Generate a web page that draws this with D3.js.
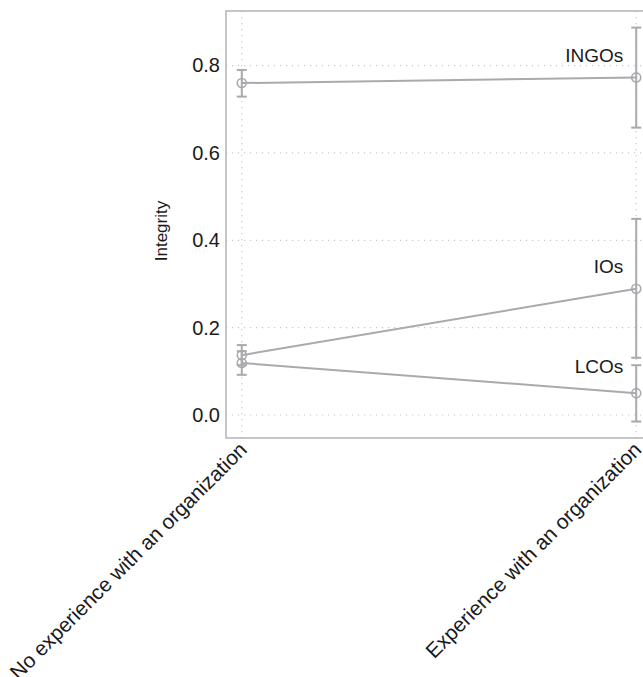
<!DOCTYPE html>
<html>
<head>
<meta charset="utf-8">
<script src="https://cdn.jsdelivr.net/npm/d3@7"></script>
<style>
  html, body { margin: 0; padding: 0; background: #fff; }
  svg { display: block; font-family: "Liberation Sans", Arial, Helvetica, sans-serif; }
</style>
</head>
<body>
<svg id="chart" width="643" height="677"></svg>
<script>
// Categories on the x axis
const conditions = ["No experience with an organization", "Experience with an organization"];
// Organization types (one line each)
const organizations = ["INGOs", "IOs", "LCOs"];
// Point estimates per organization, per condition
const estimates = {
  INGOs: [0.760, 0.773],
  IOs:   [0.137, 0.289],
  LCOs:  [0.119, 0.050]
};
// Confidence interval bounds per organization, per condition
const lower = {
  INGOs: [0.729, 0.658],
  IOs:   [0.114, 0.131],
  LCOs:  [0.092, -0.015]
};
const upper = {
  INGOs: [0.790, 0.887],
  IOs:   [0.160, 0.449],
  LCOs:  [0.146, 0.114]
};
const yTicks = [0.0, 0.2, 0.4, 0.6, 0.8];
const yTitle = "Integrity";

const svg = d3.select("#chart");
const panel = { left: 226, right: 652, top: 11, bottom: 438 };

const x = d3.scalePoint()
  .domain(conditions)
  .range([panel.left, panel.right])
  .padding(0.04);

const y = d3.scaleLinear()
  .domain([-0.0527, 0.925])
  .range([panel.bottom, panel.top]);

const lineColor = "#a9a9ae";
const gridColor = "#c9c9cc";
const textColor = "#1a1a1a";

// Dotted grid
const grid = svg.append("g");
grid.selectAll("line.h")
  .data(yTicks)
  .join("line")
  .attr("x1", panel.left).attr("x2", panel.right)
  .attr("y1", d => y(d)).attr("y2", d => y(d))
  .attr("stroke", gridColor).attr("stroke-width", 1.2)
  .attr("stroke-dasharray", "1.2,4.8");
grid.selectAll("line.v")
  .data(conditions)
  .join("line")
  .attr("x1", d => x(d)).attr("x2", d => x(d))
  .attr("y1", panel.top).attr("y2", panel.bottom)
  .attr("stroke", gridColor).attr("stroke-width", 1.2)
  .attr("stroke-dasharray", "1.2,4.8");

// Panel border
svg.append("rect")
  .attr("x", panel.left).attr("y", panel.top)
  .attr("width", panel.right - panel.left)
  .attr("height", panel.bottom - panel.top)
  .attr("fill", "none")
  .attr("stroke", "#b4b4b8")
  .attr("stroke-width", 1.5);

// Y axis labels
const yAxis = d3.axisLeft(y)
  .tickValues(yTicks)
  .tickFormat(d3.format(".1f"))
  .tickSize(0)
  .tickPadding(6);
const gy = svg.append("g")
  .attr("transform", `translate(${panel.left},0)`)
  .call(yAxis);
gy.select(".domain").remove();
gy.selectAll("text")
  .attr("font-size", 20)
  .attr("fill", textColor)
  .attr("font-family", "Liberation Sans, Arial, sans-serif");

// X axis labels, rotated
const xAxis = d3.axisBottom(x).tickSize(0).tickPadding(0);
const gx = svg.append("g")
  .attr("transform", `translate(0,${panel.bottom})`)
  .call(xAxis);
gx.select(".domain").remove();
gx.selectAll("text")
  .attr("font-size", 20.8)
  .attr("fill", textColor)
  .attr("font-family", "Liberation Sans, Arial, sans-serif")
  .attr("text-anchor", "end")
  .attr("dy", null)
  .attr("y", 0)
  .attr("transform", "translate(6,13) rotate(-45)");

// Y title
svg.append("text")
  .attr("transform", `translate(167,231) rotate(-90)`)
  .attr("text-anchor", "middle")
  .attr("font-size", 17)
  .attr("fill", textColor)
  .text(yTitle);

// Series
const series = organizations.map(o => ({
  name: o,
  points: conditions.map((c, i) => ({ c, v: estimates[o][i], lo: lower[o][i], hi: upper[o][i] }))
}));

const line = d3.line().x(d => x(d.c)).y(d => y(d.v));

const sg = svg.append("g");
sg.selectAll("path.series")
  .data(series)
  .join("path")
  .attr("d", d => line(d.points))
  .attr("fill", "none")
  .attr("stroke", lineColor)
  .attr("stroke-width", 2);

const pts = series.flatMap(s => s.points.map(p => ({ ...p, name: s.name })));
const capHalf = 5;
const eb = sg.selectAll("g.eb").data(pts).join("g");
eb.append("line")
  .attr("x1", d => x(d.c)).attr("x2", d => x(d.c))
  .attr("y1", d => y(d.lo)).attr("y2", d => y(d.hi))
  .attr("stroke", lineColor).attr("stroke-width", 2);
eb.append("line")
  .attr("x1", d => x(d.c) - capHalf).attr("x2", d => x(d.c) + capHalf)
  .attr("y1", d => y(d.lo)).attr("y2", d => y(d.lo))
  .attr("stroke", lineColor).attr("stroke-width", 2);
eb.append("line")
  .attr("x1", d => x(d.c) - capHalf).attr("x2", d => x(d.c) + capHalf)
  .attr("y1", d => y(d.hi)).attr("y2", d => y(d.hi))
  .attr("stroke", lineColor).attr("stroke-width", 2);
sg.selectAll("circle")
  .data(pts)
  .join("circle")
  .attr("cx", d => x(d.c)).attr("cy", d => y(d.v))
  .attr("r", 4.5)
  .attr("fill", "none")
  .attr("stroke", lineColor)
  .attr("stroke-width", 1.6);

// Series labels next to the right-hand points
const labelLift = { INGOs: 15, IOs: 16, LCOs: 20 };
const last = conditions[conditions.length - 1];
svg.selectAll("text.series-label")
  .data(series)
  .join("text")
  .attr("class", "series-label")
  .attr("x", x(last) - 13)
  .attr("y", d => y(d.points[1].v) - labelLift[d.name])
  .attr("text-anchor", "end")
  .attr("font-size", 19)
  .attr("fill", textColor)
  .text(d => d.name);
</script>
</body>
</html>
